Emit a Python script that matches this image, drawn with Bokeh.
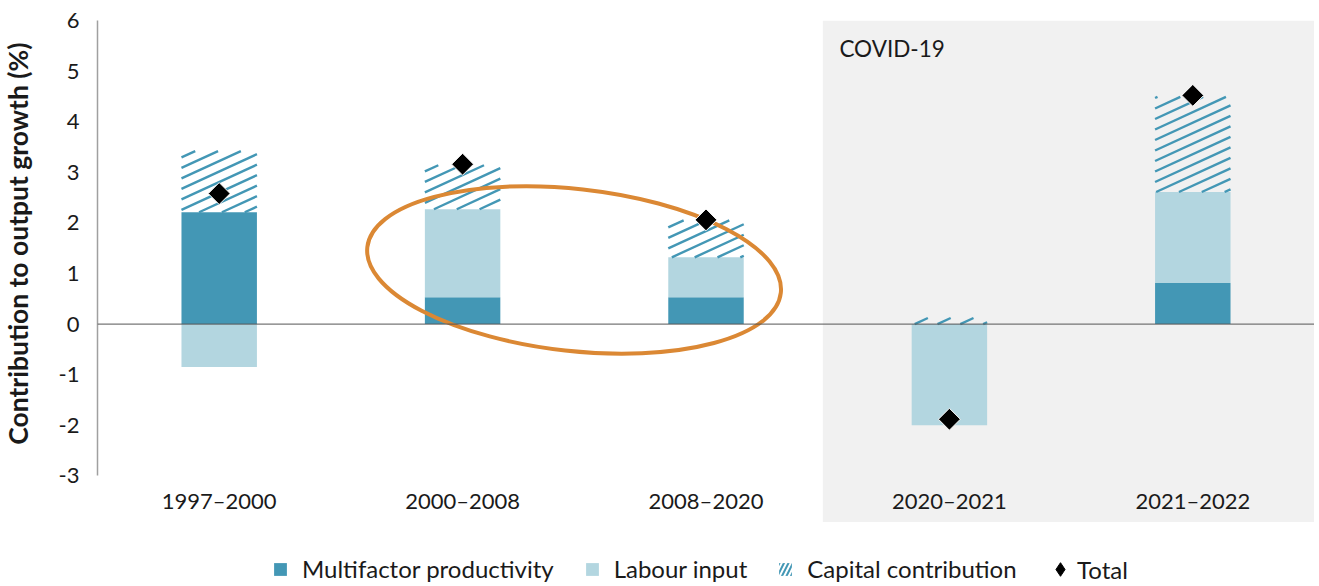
import math
from bokeh.plotting import figure
from bokeh.layouts import row
from bokeh.models import (FactorRange, Range1d, BoxAnnotation, Span, Label, Legend,
                          LegendItem, ColumnDataSource, FixedTicker, PrintfTickFormatter)
from bokeh.core.properties import value
from bokeh.embed import file_html
from bokeh.resources import INLINE

categories = ["1997–2000", "2000–2008", "2008–2020", "2020–2021", "2021–2022"]
mfp = [2.21, 0.53, 0.53, 0.0, 0.81]
labour = [-0.85, 1.74, 0.79, -2.0, 1.80]
capital = [1.21, 0.87, 0.73, 0.12, 1.88]
total = [2.58, 3.16, 2.06, -1.88, 4.52]
covid_periods = ["2020–2021", "2021–2022"]
y_ticks = [-3, -2, -1, 0, 1, 2, 3, 4, 5, 6]
y_title = "Contribution to output growth (%)"

FONT = "Lato"
C_MFP = "#4397B5"
C_LAB = "#B3D6E0"
C_CAP = "#4397B5"
C_SHADE = "#F1F1F1"
C_ORANGE = "#DB8834"
C_TEXT = "#1a1a1a"

H = 584
TITLE_W = 40
MAIN_W = 1314 - TITLE_W
BORDER_L, BORDER_T = 57, 20
FRAME_W = MAIN_W - BORDER_L
FRAME_H = H - BORDER_T
Y_TOP = 6
PX_PER_Y = 50.6
Y_BOTTOM = Y_TOP - FRAME_H / PX_PER_Y
Y_SHADE_BOTTOM = -3.91
PX_PER_X = FRAME_W / len(categories)
bw = 0.31

# stack positives upward and negatives downward
pos = [0.0] * len(categories)
neg = [0.0] * len(categories)
stacks = {}
for name, vals in (("mfp", mfp), ("labour", labour), ("capital", capital)):
    bottoms, tops = [], []
    for i, v in enumerate(vals):
        if v >= 0:
            bottoms.append(pos[i]); tops.append(pos[i] + v); pos[i] += v
        else:
            bottoms.append(neg[i] + v); tops.append(neg[i]); neg[i] += v
    stacks[name] = dict(x=categories, bottom=bottoms, top=tops)


def hatch_lines(bottoms, tops, slope=0.46, gap=10.5):
    """Shallow diagonal hatch lines clipped to each capital bar (pattern style)."""
    xs0, ys0, xs1, ys1 = [], [], [], []
    for i, (b, t) in enumerate(zip(bottoms, tops)):
        if t - b <= 0:
            continue
        x0 = (i + 0.5 - bw / 2) * PX_PER_X
        x1 = (i + 0.5 + bw / 2) * PX_PER_X
        y0 = (b - Y_BOTTOM) * PX_PER_Y
        y1 = (t - Y_BOTTOM) * PX_PER_Y
        kmin = math.floor((y0 - slope * x1) / gap)
        kmax = math.ceil((y1 - slope * x0) / gap)
        for k in range(kmin, kmax + 1):
            c = k * gap
            xa = max(x0, (y0 - c) / slope)
            xb = min(x1, (y1 - c) / slope)
            if xb - xa > 0.5:
                xs0.append(xa / PX_PER_X); ys0.append((slope * xa + c) / PX_PER_Y + Y_BOTTOM)
                xs1.append(xb / PX_PER_X); ys1.append((slope * xb + c) / PX_PER_Y + Y_BOTTOM)
    return dict(x0=xs0, y0=ys0, x1=xs1, y1=ys1)


p = figure(width=MAIN_W, height=H,
           x_range=FactorRange(*categories, range_padding=0),
           y_range=Range1d(Y_BOTTOM, Y_TOP),
           output_backend="svg", toolbar_location=None,
           min_border_left=BORDER_L, min_border_top=BORDER_T, min_border_right=0,
           min_border_bottom=0, outline_line_color=None, background_fill_color="white")
p.grid.visible = False
p.xaxis.visible = False

# COVID shading
n_pre = categories.index(covid_periods[0])
p.add_layout(BoxAnnotation(left=n_pre - 0.02, right=len(categories), top=Y_TOP,
                           bottom=Y_SHADE_BOTTOM, fill_color=C_SHADE, fill_alpha=1,
                           line_color=None, level="underlay"))

r_mfp = p.vbar(x="x", bottom="bottom", top="top", width=bw,
               source=ColumnDataSource(stacks["mfp"]), fill_color=C_MFP, line_color=None)
r_lab = p.vbar(x="x", bottom="bottom", top="top", width=bw,
               source=ColumnDataSource(stacks["labour"]), fill_color=C_LAB, line_color=None)
p.segment(x0="x0", y0="y0", x1="x1", y1="y1",
          source=ColumnDataSource(hatch_lines(stacks["capital"]["bottom"], stacks["capital"]["top"])),
          line_color=C_CAP, line_width=2.4, line_cap="butt")

# legend proxy for the hatched capital swatch (zero size, draws nothing in the plot)
r_cap_leg = p.vbar(x=[categories[0]], bottom=[0], top=[0], width=0, fill_alpha=0,
                   line_color=None, hatch_pattern="/", hatch_color=C_CAP, hatch_scale=9,
                   hatch_weight=2)

p.add_layout(Span(location=0, dimension="width", line_color="#555555", line_width=1))

# highlight ellipse
p.ellipse(x=[1.958], y=[1.07], width=[416], height=[162], angle=[-0.11],
          width_units="screen", height_units="screen",
          fill_color=None, line_color=C_ORANGE, line_width=4)

tot_src = ColumnDataSource(dict(x=categories, y=total))
p.scatter(x="x", y="y", source=tot_src, marker="square", size=15.5, angle=math.pi / 4,
          fill_color="black", line_color="white", line_width=1)
r_tot_leg = p.scatter(x=[categories[0]], y=[200], marker="diamond",
                      fill_color="black", line_color="black")

# x category labels
lab_src = ColumnDataSource(dict(x=categories, y=[-3.48] * len(categories), t=categories))
p.text(x="x", y="y", text="t", source=lab_src, text_align="center", text_baseline="middle",
       text_font=value(FONT), text_font_size="22px", text_color=C_TEXT)

p.add_layout(Label(x=n_pre + 0.048, y=5.45, text="COVID-19", text_font=FONT,
                   text_font_size="22.5px", text_color=C_TEXT, text_baseline="middle"))

yax = p.yaxis[0]
yax.ticker = FixedTicker(ticks=y_ticks)
yax.formatter = PrintfTickFormatter(format="%d")
yax.bounds = (-3, 6)
yax.axis_line_color = "#a0a0a0"
yax.axis_line_width = 1.5
yax.major_tick_line_color = None
yax.minor_tick_line_color = None
yax.major_label_standoff = 12
yax.major_label_text_font = FONT
yax.major_label_text_font_size = "22px"
yax.major_label_text_color = C_TEXT

common = dict(orientation="horizontal", padding=0, margin=0, border_line_color=None,
              background_fill_alpha=0, label_text_font=FONT, label_text_font_size="24px",
              label_text_color=C_TEXT, label_height=16)
legend1 = Legend(items=[
    LegendItem(label="Multifactor productivity", renderers=[r_mfp]),
    LegendItem(label="Labour input", renderers=[r_lab]),
    LegendItem(label="Capital contribution", renderers=[r_cap_leg]),
], location=(175, 1), glyph_width=16, glyph_height=16, label_standoff=14, spacing=30, **common)
legend2 = Legend(items=[LegendItem(label="Total", renderers=[r_tot_leg])],
                 location=(946, -2), glyph_width=34, glyph_height=34, label_standoff=0,
                 **common)
p.add_layout(legend1)
p.add_layout(legend2)

# narrow panel carrying the vertical y-axis title
t = figure(width=TITLE_W, height=H, x_range=Range1d(0, TITLE_W), y_range=Range1d(0, H),
           output_backend="svg", toolbar_location=None, min_border=0,
           outline_line_color=None)
t.axis.visible = False
t.grid.visible = False
t.text(x=[17.5], y=[H - 231], text=[y_title], angle=math.pi / 2, text_align="center",
       text_baseline="middle", text_font=value(FONT), text_font_size="26.5px",
       text_font_style="bold", text_color=C_TEXT)

layout = row(t, p, spacing=0)
open("out.html", "w").write(file_html(layout, INLINE))
